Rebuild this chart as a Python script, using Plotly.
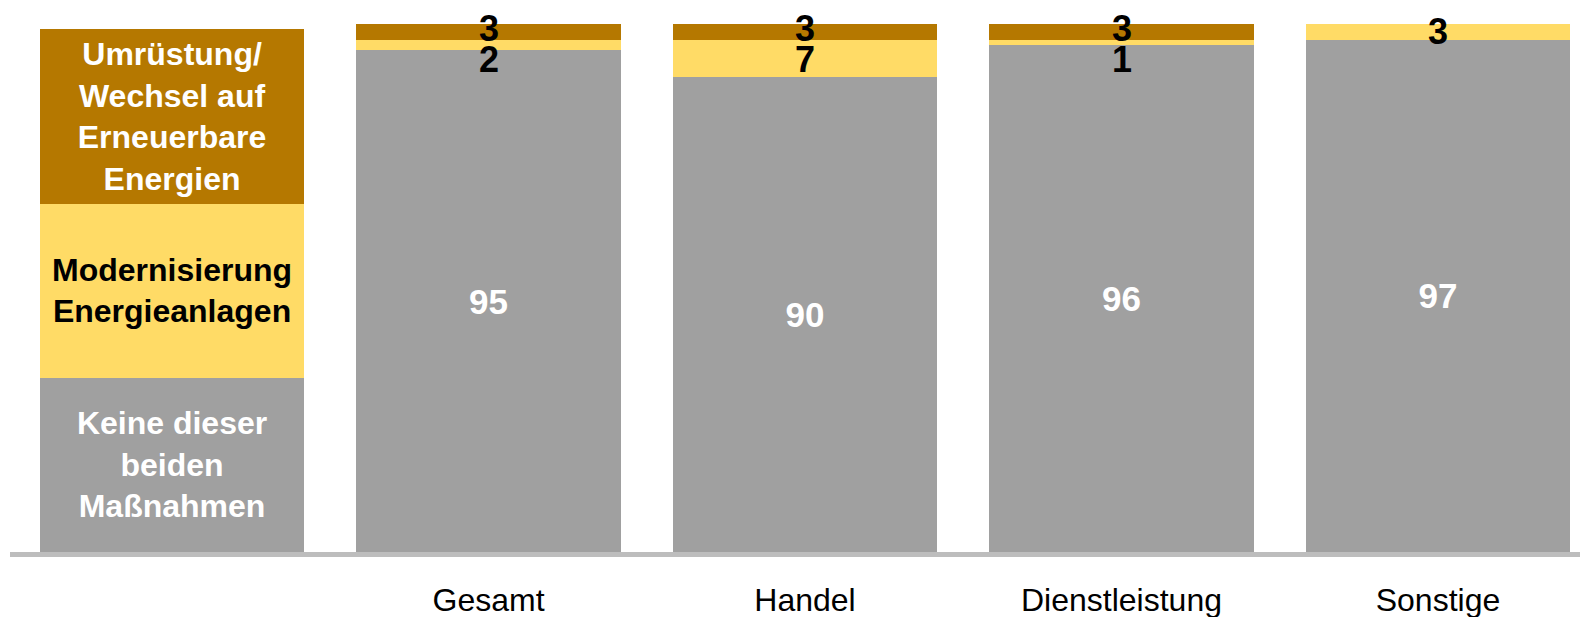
import plotly.graph_objects as go

# first column works as legend, the others are the real categories
categories = ["", "Gesamt", "Handel", "Dienstleistung", "Sonstige"]
keine = [33, 95, 90, 96, 97]
modernisierung = [33, 2, 7, 1, 3]
umruestung = [33, 3, 3, 3, 0]

legend_texts = ["Keine dieser<br>beiden<br>Maßnahmen",
                "Modernisierung<br>Energieanlagen",
                "Umrüstung/<br>Wechsel auf<br>Erneuerbare<br>Energien"]

GRAY = "#A0A0A0"
YELLOW = "#FFDB66"
BROWN = "#B57800"
FONT = "Liberation Sans, Arial, sans-serif"

x = list(range(len(categories)))

fig = go.Figure()

gray_text = [legend_texts[0]] + [str(v) for v in keine[1:]]
fig.add_trace(go.Bar(x=x, y=keine, marker_color=GRAY, marker_line_width=0,
                     text=gray_text, textposition="inside", insidetextanchor="middle",
                     textangle=0,
                     textfont=dict(family=FONT, color="white", weight="bold",
                                   size=[32] + [35] * 4)))
fig.add_trace(go.Bar(x=x, y=modernisierung, marker_color=YELLOW, marker_line_width=0,
                     text=[legend_texts[1]] + [""] * 4, textposition="inside",
                     insidetextanchor="middle", textangle=0,
                     textfont=dict(family=FONT, color="black", weight="bold", size=32)))
fig.add_trace(go.Bar(x=x, y=umruestung, marker_color=BROWN, marker_line_width=0,
                     text=[legend_texts[2]] + [""] * 4, textposition="inside",
                     insidetextanchor="middle", textangle=0,
                     textfont=dict(family=FONT, color="white", weight="bold", size=32)))

# small segment labels, pushed apart like in the original
lab_font = dict(family=FONT, color="black", size=36, weight="bold")
for i in x[1:]:
    total = keine[i] + modernisierung[i] + umruestung[i]
    if umruestung[i] > 0:
        yb = total - umruestung[i] / 2
        fig.add_annotation(x=i, y=yb, text=str(umruestung[i]), showarrow=False,
                           yshift=3, font=lab_font)
        if modernisierung[i] > 0:
            fig.add_annotation(x=i, y=yb, text=str(modernisierung[i]), showarrow=False,
                               yshift=-28, font=lab_font)
    elif modernisierung[i] > 0:
        fig.add_annotation(x=i, y=keine[i] + modernisierung[i] / 2,
                           text=str(modernisierung[i]), showarrow=False, font=lab_font)

# page body has an 8px margin, so the figure is a bit smaller and shifted
fig.update_layout(
    barmode="stack",
    bargap=0.163,
    width=1580, height=609,
    margin=dict(l=2, r=0, t=16, b=65),
    paper_bgcolor="white", plot_bgcolor="white",
    showlegend=False,
    font=dict(family=FONT),
)
fig.update_xaxes(tickvals=x, ticktext=categories, range=[-0.512, 4.474],
                 showline=True, linecolor="#BDBDBD", linewidth=5,
                 showgrid=False, zeroline=False, ticks="",
                 ticklabelstandoff=16,
                 tickfont=dict(family=FONT, size=32, color="black"))
fig.update_yaxes(range=[0, 100], visible=False, showgrid=False)

fig.write_html("out.html")
